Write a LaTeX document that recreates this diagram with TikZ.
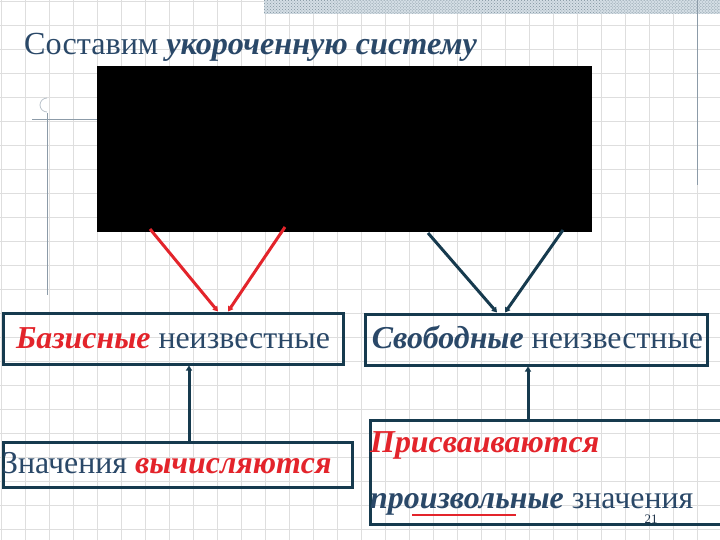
\documentclass[tikz,border=0pt]{standalone}
\usepackage{fontspec}
\setmainfont{Liberation Serif}
\usetikzlibrary{arrows.meta,patterns,calc}
\definecolor{tblue}{HTML}{2A4868}
\definecolor{tred}{HTML}{E3242B}
\definecolor{bord}{HTML}{163A4E}
\definecolor{gridc}{HTML}{DEDEDE}
\definecolor{deco}{HTML}{8C9BA8}
\definecolor{hatchc}{HTML}{9FB6C6}
\begin{document}
\begin{tikzpicture}[x=1bp,y=-1bp,
  box/.style={draw=bord, line width=3bp, inner sep=0pt, anchor=north west},
  txt/.style={text=tblue, inner sep=0pt, font=\fontsize{32}{36}\selectfont},
  redarrow/.style={draw=tred, line width=3bp, -{Triangle[length=5bp,width=6bp]}},
  bluearrow/.style={draw=bord, line width=3bp, -{Triangle[length=5bp,width=6bp]}},
  gridline/.style={draw=gridc, line width=0.8bp}]
\useasboundingbox (0,0) rectangle (720,540);
\fill[white] (0,0) rectangle (720,540);
% graph paper
\foreach \i in {0,...,29} \draw[gridline] (1+24*\i,0) -- (1+24*\i,540);
\foreach \j in {0,...,22} \draw[gridline] (0,1+24*\j) -- (720,1+24*\j);
% top hatched band
\fill[hatchc!45] (264,0) rectangle (720,14);
\fill[pattern=crosshatch dots, pattern color=hatchc!80!black] (264,0) rectangle (720,14);
% decorations
\draw[deco, line width=1bp] (697,0) -- (697,185);
\draw[deco, line width=0.8bp] (32,119) -- (97,119);
\draw[deco, line width=0.8bp] (47,113) -- (47,295);
\draw[deco!60, line width=0.8bp] (47,112) arc[start angle=90, end angle=270, radius=7];
% title
\node[anchor=base west, inner sep=0pt, text=tblue, font=\fontsize{32.3}{36}\selectfont] (title) at (24,55)
  {Составим \textbf{\textit{укороченную систему}}};
% black box
\node[fill=black, minimum width=495bp, minimum height=166bp, anchor=north west, inner sep=0pt] (blk) at (97,66) {};
% boxes
\node[box, minimum width=340bp, minimum height=51bp] (b1) at (1.5,311.5) {};
\node[txt, anchor=base] (t1) at ($(b1.south)+(0,-17.5)$) {{\color{tred}\bfseries\itshape Базисные} неизвестные};
\node[box, minimum width=342bp, minimum height=51bp] (b2) at (363.5,312.5) {};
\node[txt, anchor=base] (t2) at ($(b2.south)+(1.5,-18.5)$) {\textbf{\textit{Свободные}} неизвестные};
\node[box, minimum width=349bp, minimum height=45bp] (b3) at (1.5,440.5) {};
\node[txt, anchor=base west] (t3) at (2,473) {Значения {\color{tred}\bfseries\itshape вычисляются}};
\node[box, minimum width=360bp, minimum height=104bp] (b4) at (368.5,418.5) {};
\node[txt, anchor=base west] (t4a) at (370,452) {{\color{tred}\bfseries\itshape Присваиваются}};
\node[txt, anchor=base west] (t4b) at (370,508) {\textbf{\textit{произвольные}} значения};
\draw[tred, line width=2.5bp] (412,515) -- (516,515);
\node[text=tblue!70!black, font=\fontsize{13}{14}\selectfont, inner sep=0pt] (pg) at (651,519) {21};
% connector anchors
\coordinate (r1) at (150,229);
\coordinate (r2) at (285,227);
\coordinate (s1) at (428,233);
\coordinate (s2) at (563,230);
\coordinate (e1) at (218,0);
\coordinate (e2) at (228,0);
\coordinate (e3) at (497,0);
\coordinate (e4) at (505,0);
\coordinate (vl) at (189,0);
\coordinate (vr) at (528,0);
% connectors
\draw[redarrow] (r1) -- (b1.north -| e1);
\draw[redarrow] (r2) -- (b1.north -| e2);
\draw[bluearrow] (s1) -- (b2.north -| e3);
\draw[bluearrow] (s2) -- (b2.north -| e4);
\draw[bluearrow] (b3.north -| vl) -- (b1.south -| vl);
\draw[bluearrow] (b4.north -| vr) -- (b2.south -| vr);
\end{tikzpicture}
\end{document}
